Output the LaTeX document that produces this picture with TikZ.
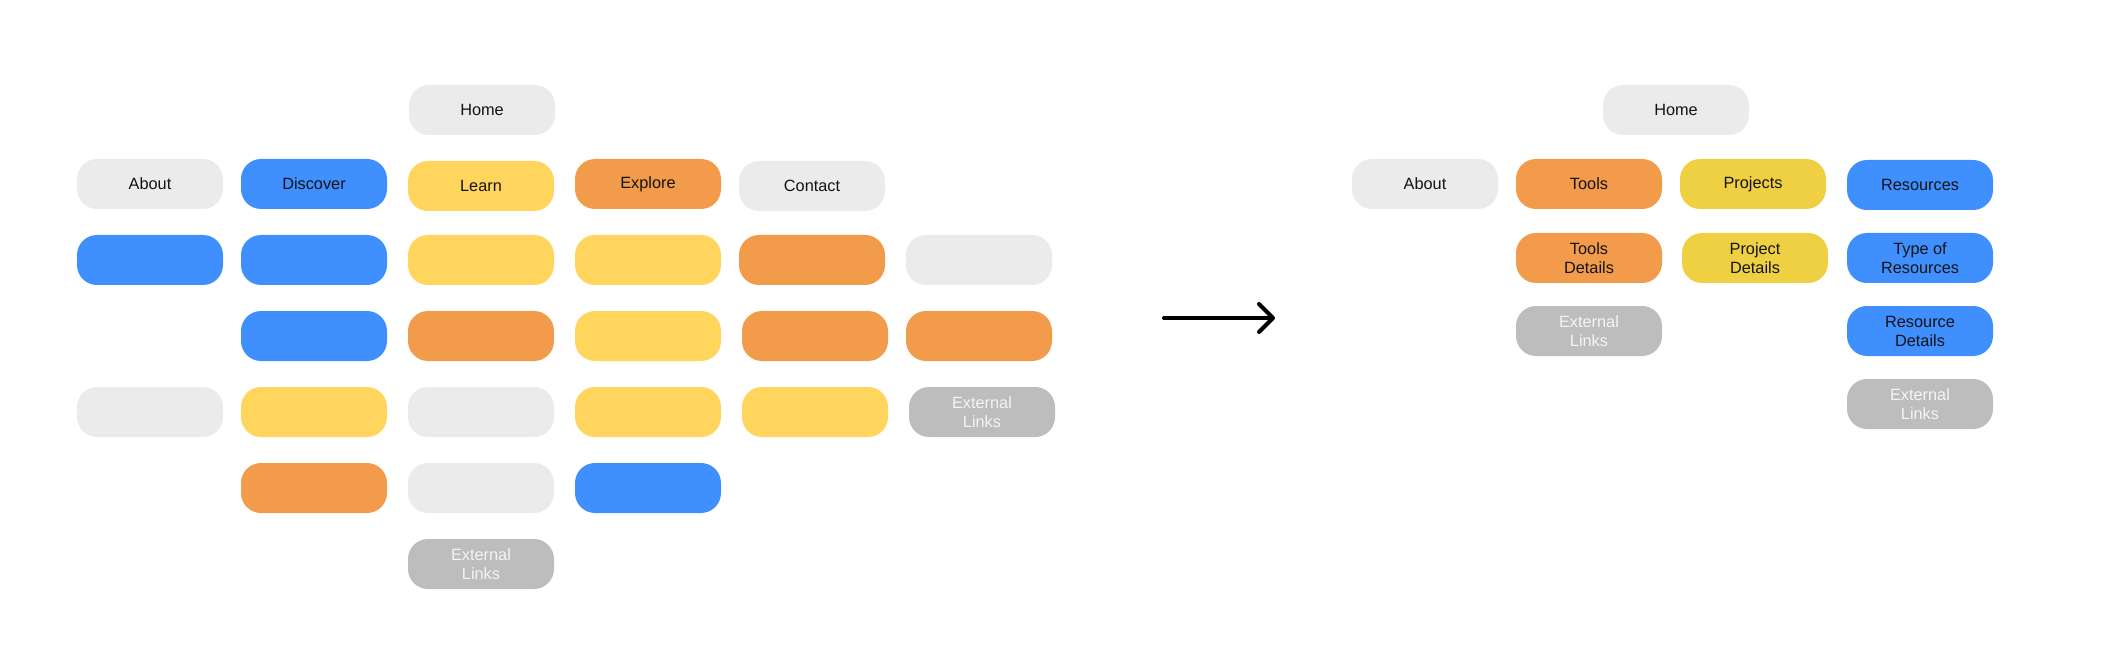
\documentclass[tikz,border=0pt]{standalone}
\usepackage{fontspec}
\setmainfont{Liberation Sans}
\usetikzlibrary{arrows.meta}
\definecolor{cgrey}{HTML}{EBEBEB}
\definecolor{cblue}{HTML}{3F8FFE}
\definecolor{cyellow}{HTML}{FFD55D}
\definecolor{corange}{HTML}{F29B4B}
\definecolor{cgold}{HTML}{F0D043}
\definecolor{cext}{HTML}{BDBDBD}
\definecolor{ctext}{HTML}{141414}
\definecolor{cwtext}{HTML}{F4F4F4}
\tikzset{
  pill/.style={rectangle, rounded corners=20pt, minimum width=146pt, minimum height=50pt,
    inner sep=0pt, align=center, text=ctext, font=\fontsize{16.3}{19}\selectfont},
  greypill/.style={pill, fill=cgrey},
  bluepill/.style={pill, fill=cblue},
  yellowpill/.style={pill, fill=cyellow},
  orangepill/.style={pill, fill=corange},
  goldpill/.style={pill, fill=cgold},
  extpill/.style={pill, fill=cext, text=cwtext},
  bigarrow/.style={line width=4pt, line cap=round, line join=round,
    -{Straight Barb[length=14pt, width=28pt, line width=4pt, round]}}
}
\begin{document}
\begin{tikzpicture}[x=1pt, y=-1pt]
\useasboundingbox (0,0) rectangle (2109,668);
% ---------- left diagram ----------
\node[greypill] (lhome) at (482,110) {Home};
% row 1
\node[greypill]   (labout)    at (150,184) {About};
\node[bluepill]   (ldiscover) at (314,184) {Discover};
\node[yellowpill] (llearn)    at (481,186) {Learn};
\node[orangepill] (lexplore)  at (648,184) {Explore};
\node[greypill]   (lcontact)  at (812,186) {Contact};
% row 2
\node[bluepill]   (la2) at (150,260) {};
\node[bluepill]   (lb2) at (314,260) {};
\node[yellowpill] (lc2) at (481,260) {};
\node[yellowpill] (ld2) at (648,260) {};
\node[orangepill] (le2) at (812,260) {};
\node[greypill]   (lf2) at (979,260) {};
% row 3
\node[bluepill]   (lb3) at (314,336) {};
\node[orangepill] (lc3) at (481,336) {};
\node[yellowpill] (ld3) at (648,336) {};
\node[orangepill] (le3) at (815,336) {};
\node[orangepill] (lf3) at (979,336) {};
% row 4
\node[greypill]   (la4) at (150,412) {};
\node[yellowpill] (lb4) at (314,412) {};
\node[greypill]   (lc4) at (481,412) {};
\node[yellowpill] (ld4) at (648,412) {};
\node[yellowpill] (le4) at (815,412) {};
\node[extpill]    (lf4) at (982,412) {External\\Links};
% row 5
\node[orangepill] (lb5) at (314,488) {};
\node[greypill]   (lc5) at (481,488) {};
\node[bluepill]   (ld5) at (648,488) {};
% row 6
\node[extpill]    (lc6) at (481,564) {External\\Links};
% ---------- arrow ----------
\coordinate (arrs) at (1164,318);
\coordinate (arre) at (1275,318);
\draw[bigarrow] (arrs) -- (arre);
% ---------- right diagram ----------
\node[greypill]   (rhome)      at (1676,110) {Home};
\node[greypill]   (rabout)     at (1425,184) {About};
\node[orangepill] (rtools)     at (1589,184) {Tools};
\node[goldpill]   (rprojects)  at (1753,184) {Projects};
\node[bluepill]   (rresources) at (1920,185) {Resources};
\node[orangepill] (rtoolsdet)  at (1589,258) {Tools\\Details};
\node[goldpill]   (rprojdet)   at (1755,258) {Project\\Details};
\node[bluepill]   (rtyperes)   at (1920,258) {Type of\\Resources};
\node[extpill]    (rext1)      at (1589,331) {External\\Links};
\node[bluepill]   (rresdet)    at (1920,331) {Resource\\Details};
\node[extpill]    (rext2)      at (1920,404) {External\\Links};
\end{tikzpicture}
\end{document}
